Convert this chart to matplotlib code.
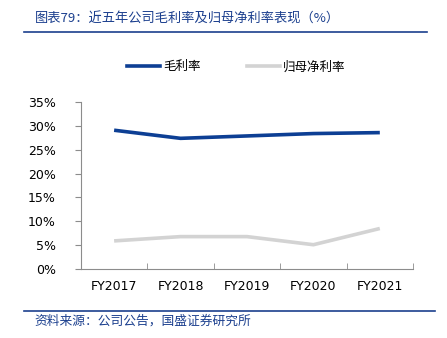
import matplotlib.pyplot as plt
import numpy as np
from matplotlib.lines import Line2D

plt.rcParams['font.family'] = ['Noto Sans CJK SC', 'DejaVu Sans']

years = ['FY2017', 'FY2018', 'FY2019', 'FY2020', 'FY2021']
gross_margin = [29.1, 27.4, 27.9, 28.4, 28.6]
net_margin = [5.9, 6.8, 6.8, 5.1, 8.5]

blue = '#0D3F94'
grey = '#D3D3D3'
axis_grey = '#8C8C8C'
title_blue = '#1B3F8E'

fig = plt.figure(figsize=(4.47, 3.38), dpi=100)
ax = fig.add_axes([0.181, 0.204, 0.743, 0.494])

x = np.arange(len(years))
ax.plot(x, gross_margin, color=blue, lw=2.6, solid_capstyle='butt')
ax.plot(x, net_margin, color=grey, lw=2.6, solid_capstyle='butt')

tick_font = ['DejaVu Sans']
ax.set_xlim(-0.5, len(years) - 0.5)
ax.set_ylim(0, 35)
ax.set_yticks(np.arange(0, 36, 5))
ax.set_yticklabels([f'{v}%' for v in range(0, 36, 5)], fontsize=9, family=tick_font)
ax.set_xticks(x)
ax.set_xticklabels(years, fontsize=9, family=tick_font)
ax.tick_params(axis='x', length=0, pad=8)
ax.set_xticks(np.arange(-0.5, len(years)), minor=True)
ax.tick_params(axis='x', which='minor', direction='in', length=4, color=axis_grey)
ax.tick_params(axis='y', direction='out', length=4, color=axis_grey, pad=14)
for s in ['top', 'right']:
    ax.spines[s].set_visible(False)
for s in ['left', 'bottom']:
    ax.spines[s].set_color(axis_grey)
    ax.spines[s].set_linewidth(0.8)

# legend
handles = [Line2D([], [], color=blue, lw=2.6), Line2D([], [], color=grey, lw=2.6)]
fig.legend(handles, ['毛利率', '归母净利率'], loc='center', bbox_to_anchor=(0.528, 0.802),
           ncol=2, frameon=False, fontsize=9, handlelength=2.65, handletextpad=0.25,
           columnspacing=3.7)

# title and footer
fig.text(0.078, 0.945, '图表79：近五年公司毛利率及归母净利率表现（%）', fontsize=9.5,
         color=title_blue, style='italic', va='center')
fig.add_artist(Line2D([0.054, 0.955], [0.905, 0.905], color=title_blue, lw=1.2))
fig.add_artist(Line2D([0.054, 0.973], [0.080, 0.080], color=title_blue, lw=1.2))
fig.text(0.078, 0.051, '资料来源：公司公告，国盛证券研究所', fontsize=9.2,
         color=title_blue, style='italic', va='center')

fig.savefig('out.png', dpi=100)
